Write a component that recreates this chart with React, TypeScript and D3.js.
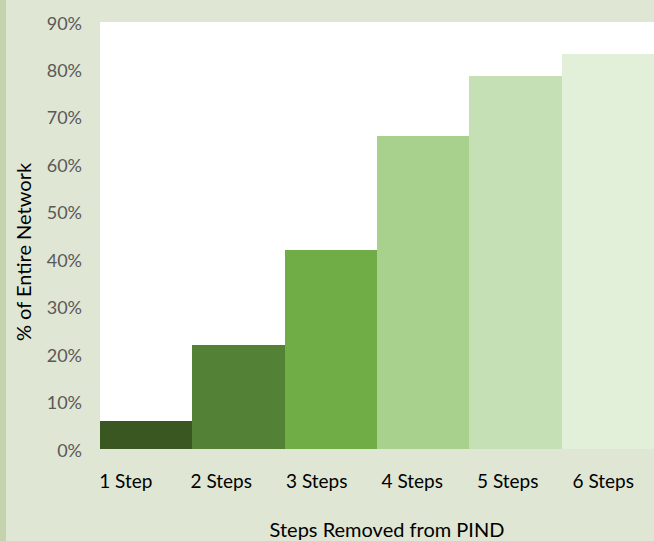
import React from "react";
import * as d3 from "d3";

const categories = ["1 Step", "2 Steps", "3 Steps", "4 Steps", "5 Steps", "6 Steps"];
const values = [0.059, 0.219, 0.419, 0.66, 0.786, 0.833];
const colors = ["#3a5722", "#538135", "#70ad47", "#a9d18e", "#c5e0b4", "#e2efd9"];
const yTicks = [0, 0.1, 0.2, 0.3, 0.4, 0.5, 0.6, 0.7, 0.8, 0.9];

const W = 654;
const H = 541;
const plot = { left: 100, right: 654, top: 22, bottom: 449 };
const FONT = "Lato, 'Open Sans', sans-serif";

export default function App() {
  const x = d3.scaleBand<string>().domain(categories).range([plot.left, plot.right]).padding(0);
  const xLabel = d3.scaleBand<string>().domain(categories).range([78, 651]).padding(0);
  const y = d3.scaleLinear().domain([0, 0.9]).range([plot.bottom, plot.top]);
  const fmt = d3.format(".0%");

  return (
    <svg
      width={W}
      height={H}
      style={{ position: "absolute", left: 0, top: 0, display: "block" }}
      fontFamily={FONT}
    >
      <rect x={0} y={0} width={W} height={H} fill="#dfe6d4" />
      <rect x={0} y={0} width={6} height={H} fill="#c4d3ac" />
      <rect x={plot.left} y={plot.top} width={plot.right - plot.left} height={plot.bottom - plot.top} fill="#ffffff" />
      {categories.map((c, i) => (
        <rect
          key={c}
          x={x(c)!}
          y={y(values[i])}
          width={x.bandwidth() + 0.5}
          height={y(0) - y(values[i])}
          fill={colors[i]}
          shapeRendering="crispEdges"
        />
      ))}
      {yTicks.map((t) => (
        <text
          key={t}
          x={82}
          y={y(t) + 3}
          textAnchor="end"
          dominantBaseline="middle"
          fontSize={18}
          fill="#595959"
        >
          {fmt(t)}
        </text>
      ))}
      {categories.map((c) => (
        <text
          key={c}
          x={xLabel(c)! + xLabel.bandwidth() / 2}
          y={488}
          textAnchor="middle"
          fontSize={19}
          fill="#000000"
        >
          {c}
        </text>
      ))}
      <text x={387} y={537} textAnchor="middle" fontSize={20} fill="#000000">
        Steps Removed from PIND
      </text>
      <text
        transform={`translate(31,252) rotate(-90)`}
        textAnchor="middle"
        fontSize={20}
        fill="#000000"
      >
        % of Entire Network
      </text>
    </svg>
  );
}
